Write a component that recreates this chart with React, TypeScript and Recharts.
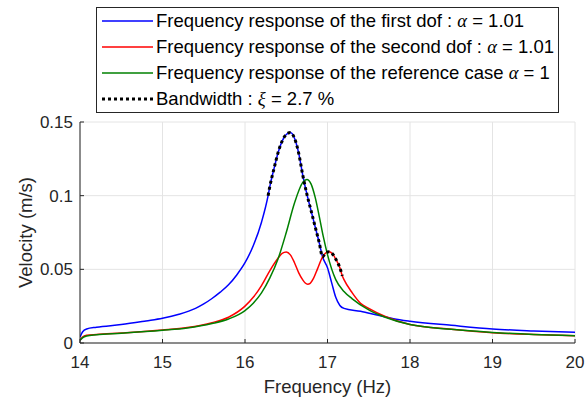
import React from 'react';
import { LineChart, Line, XAxis, YAxis, CartesianGrid } from 'recharts';

// Velocity of the first dof (alpha = 1.01)
const freqFirst = [14.0, 14.03, 14.08, 14.2, 14.5, 14.8, 15.0, 15.2, 15.4, 15.5, 15.6, 15.7, 15.8, 15.9, 16.0, 16.1, 16.2, 16.28, 16.3, 16.35, 16.4, 16.45, 16.5, 16.55, 16.6, 16.65, 16.7, 16.75, 16.8, 16.85, 16.9, 16.94, 17.0, 17.05, 17.1, 17.15, 17.2, 17.4, 17.6, 17.8, 18.0, 18.5, 19.0, 19.5, 20.0];
const velFirst = [0.004, 0.0075, 0.0095, 0.0107, 0.0125, 0.015, 0.0168, 0.0195, 0.0235, 0.0265, 0.0302, 0.0345, 0.0395, 0.0462, 0.0545, 0.066, 0.082, 0.1, 0.106, 0.118, 0.129, 0.137, 0.1415, 0.1428, 0.139, 0.129, 0.114, 0.101, 0.09, 0.079, 0.068, 0.0585, 0.051, 0.041, 0.031, 0.0255, 0.0235, 0.0215, 0.019, 0.0165, 0.0148, 0.012, 0.0095, 0.0082, 0.0073];

// Velocity of the second dof (alpha = 1.01)
const freqSecond = [14.0, 14.03, 14.08, 14.2, 14.5, 15.0, 15.3, 15.6, 15.8, 16.0, 16.1, 16.2, 16.3, 16.4, 16.45, 16.5, 16.55, 16.6, 16.65, 16.7, 16.73, 16.76, 16.79, 16.83, 16.88, 16.94, 16.98, 17.02, 17.06, 17.1, 17.15, 17.18, 17.2, 17.3, 17.4, 17.5, 17.7, 18.0, 18.5, 19.0, 19.5, 20.0];
const velSecond = [0.002, 0.004, 0.0052, 0.0058, 0.0068, 0.0088, 0.0105, 0.0138, 0.0175, 0.025, 0.031, 0.039, 0.049, 0.0575, 0.0608, 0.0618, 0.0598, 0.0545, 0.0478, 0.0428, 0.0407, 0.0399, 0.0405, 0.0438, 0.0505, 0.0585, 0.0612, 0.0619, 0.0605, 0.057, 0.051, 0.0455, 0.043, 0.034, 0.027, 0.0235, 0.018, 0.0125, 0.0093, 0.007, 0.0058, 0.005];

// Reference case (alpha = 1)
const freqRef = [14.0, 14.03, 14.08, 14.2, 14.5, 15.0, 15.3, 15.6, 15.8, 16.0, 16.1, 16.2, 16.3, 16.4, 16.5, 16.6, 16.7, 16.75, 16.8, 16.85, 16.9, 16.95, 17.0, 17.1, 17.2, 17.3, 17.5, 17.7, 18.0, 18.5, 19.0, 19.5, 20.0];
const velRef = [0.0018, 0.0035, 0.0048, 0.0056, 0.0066, 0.0086, 0.0102, 0.0132, 0.0163, 0.022, 0.027, 0.034, 0.044, 0.057, 0.075, 0.095, 0.109, 0.111, 0.108, 0.099, 0.086, 0.072, 0.06, 0.043, 0.035, 0.03, 0.0225, 0.0175, 0.0125, 0.0093, 0.0072, 0.0058, 0.005];

// Half-power band: follows the first dof, then the second dof
const bandStart = 16.28;
const bandSwitch = 16.94;
const bandEnd = 17.18;

const xTicks = [14, 15, 16, 17, 18, 19, 20];
const yTicks = [0, 0.05, 0.1, 0.15];

const toPoints = (f: number[], v: number[]) => f.map((x, i) => ({ f: x, v: v[i] }));

const firstDof = toPoints(freqFirst, velFirst);
const secondDof = toPoints(freqSecond, velSecond);
const reference = toPoints(freqRef, velRef);
const bandwidth = [
  ...firstDof.filter((p) => p.f >= bandStart && p.f <= bandSwitch),
  ...secondDof.filter((p) => p.f > bandSwitch && p.f <= bandEnd),
];

const FONT = '"Liberation Sans", Arial, Helvetica, sans-serif';
const AXIS = '#262626';

const legendRows = [
  { color: '#0000ff', dashed: false, pre: 'Frequency response of the first dof : ', sym: 'α', post: ' = 1.01' },
  { color: '#ff0000', dashed: false, pre: 'Frequency response of the second dof : ', sym: 'α', post: ' = 1.01' },
  { color: '#008000', dashed: false, pre: 'Frequency response of the reference case ', sym: 'α', post: ' = 1' },
  { color: '#000000', dashed: true, pre: 'Bandwidth : ', sym: 'ξ', post: ' = 2.7 %' },
];

const YTitle = (props: any) => {
  const vb = props.viewBox || {};
  const cx = vb.x + 25;
  const cy = vb.y + vb.height / 2;
  return (
    <text x={cx} y={cy} transform={`rotate(-90, ${cx}, ${cy})`} textAnchor="middle" dominantBaseline="central"
      fill={AXIS} fontSize={18.5} fontFamily={FONT}>
      Velocity (m/s)
    </text>
  );
};

function Legend() {
  return (
    <div style={{ position: 'absolute', left: 96, top: 7, width: 463, height: 106, boxSizing: 'border-box',
      border: `1px solid ${AXIS}`, background: '#fff', fontFamily: FONT, fontSize: 18.5, color: '#000' }}>
      {legendRows.map((r, i) => (
        <div key={i} style={{ height: 26.1, display: 'flex', alignItems: 'center' }}>
          <svg width={59} height={10} style={{ flex: 'none' }}>
            <line x1={5} x2={56} y1={5} y2={5} stroke={r.color} strokeWidth={r.dashed ? 3 : 1.5}
              strokeDasharray={r.dashed ? '3 3' : undefined} />
          </svg>
          <span style={{ whiteSpace: 'nowrap' }}>
            {r.pre}
            <span style={{ fontFamily: '"Liberation Serif", "DejaVu Serif", serif', fontStyle: 'italic' }}>{r.sym}</span>
            {r.post}
          </span>
        </div>
      ))}
    </div>
  );
}

export default function App() {
  const tickStyle = { fill: AXIS, fontSize: 17, fontFamily: FONT };
  return (
    <div style={{ position: 'absolute', left: 0, top: 0, width: 588, height: 403, background: '#fff' }}>
      <LineChart width={588} height={403} margin={{ top: 122, right: 13, bottom: 0, left: 0 }}>
        <CartesianGrid stroke="#e4e4e4" strokeWidth={1} xAxisId="bottom" yAxisId="left" />
        <XAxis xAxisId="bottom" dataKey="f" type="number" domain={[14, 20]} ticks={xTicks} allowDataOverflow
          height={60} stroke={AXIS} tickSize={-4} tickMargin={17} tick={tickStyle}
          label={{ value: 'Frequency (Hz)', position: 'insideBottom', offset: 10, fill: AXIS, fontSize: 18.5, fontFamily: FONT }} />
        <XAxis xAxisId="top" orientation="top" dataKey="f" type="number" domain={[14, 20]} ticks={xTicks}
          allowDataOverflow height={0} stroke={AXIS} tickSize={-4} tick={false} />
        <YAxis yAxisId="left" type="number" domain={[0, 0.15]} ticks={yTicks} allowDataOverflow width={80}
          stroke={AXIS} tickSize={-4} tickMargin={11} tick={tickStyle} label={<YTitle />} />
        <YAxis yAxisId="right" orientation="right" type="number" domain={[0, 0.15]} ticks={yTicks}
          allowDataOverflow width={0} stroke={AXIS} tickSize={-4} tick={false} />
        <Line xAxisId="bottom" yAxisId="left" data={firstDof} dataKey="v" name="first dof" type="monotone"
          stroke="#0000ff" strokeWidth={1.5} dot={false} isAnimationActive={false} />
        <Line xAxisId="bottom" yAxisId="left" data={secondDof} dataKey="v" name="second dof" type="monotone"
          stroke="#ff0000" strokeWidth={1.5} dot={false} isAnimationActive={false} />
        <Line xAxisId="bottom" yAxisId="left" data={reference} dataKey="v" name="reference case" type="monotone"
          stroke="#008000" strokeWidth={1.5} dot={false} isAnimationActive={false} />
        <Line xAxisId="bottom" yAxisId="left" data={bandwidth} dataKey="v" name="bandwidth" type="monotone"
          stroke="#000000" strokeWidth={3} strokeDasharray="3 3" dot={false} isAnimationActive={false} />
      </LineChart>
      <Legend />
    </div>
  );
}
